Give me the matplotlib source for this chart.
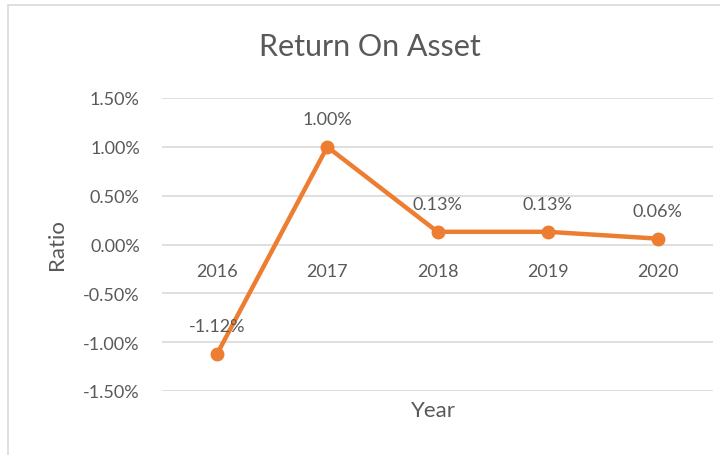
import matplotlib
matplotlib.use('Agg')
from matplotlib import pyplot as plt
from matplotlib.patches import Rectangle
from matplotlib.ticker import FuncFormatter
import numpy as np

years = ['2016', '2017', '2018', '2019', '2020']
roa = [-1.12, 1.00, 0.13, 0.13, 0.06]  # percent
labels = ['-1.12%', '1.00%', '0.13%', '0.13%', '0.06%']
yticks = [-1.5, -1.0, -0.5, 0.0, 0.5, 1.0, 1.5]

plt.rcParams['font.family'] = ['Lato', 'DejaVu Sans']
txt = '#595959'
orange = '#ED7D31'
grid = '#D9D9D9'

fig = plt.figure(figsize=(7.2, 4.56), dpi=100)
fig.patches.append(Rectangle((8/720, -0.1), 1.2, 1 - 6/456 + 0.1,
                             transform=fig.transFigure, fill=False,
                             edgecolor=grid, linewidth=1.2))

ax = fig.add_axes([162/720, 1 - 392/456, 551/720, 293/456])
x = np.arange(len(years))
ax.plot(x, roa, color=orange, linewidth=3.2, marker='o', markersize=9,
        solid_capstyle='round', zorder=3)

ax.set_xlim(-0.5, len(years) - 0.5)
ax.set_ylim(-1.5, 1.5)
ax.set_yticks(yticks)
ax.yaxis.set_major_formatter(FuncFormatter(lambda v, p: '%.2f%%' % v))
ax.yaxis.grid(True, color=grid, linewidth=1.2)
ax.set_axisbelow(True)
for s in ax.spines.values():
    s.set_visible(False)
ax.spines['bottom'].set_position(('data', 0))
ax.set_xticks(x)
ax.set_xticklabels(years)
ax.tick_params(axis='both', length=0, colors=txt, labelsize=13)
ax.tick_params(axis='x', pad=13)
ax.tick_params(axis='y', pad=16)

for i, (v, lab) in enumerate(zip(roa, labels)):
    ax.annotate(lab, (x[i], v), xytext=(0, 14), textcoords='offset points',
                ha='center', va='bottom', color=txt, fontsize=13)

fig.text(370/720, 1 - 47/456, 'Return On Asset', ha='center', va='center',
         color=txt, fontsize=22)
fig.text(433/720, 1 - 411/456, 'Year', ha='center', va='center',
         color=txt, fontsize=16)
fig.text(57/720, 1 - 245/456, 'Ratio', ha='center', va='center',
         rotation=90, color=txt, fontsize=16)

fig.savefig('out.png', dpi=100)
